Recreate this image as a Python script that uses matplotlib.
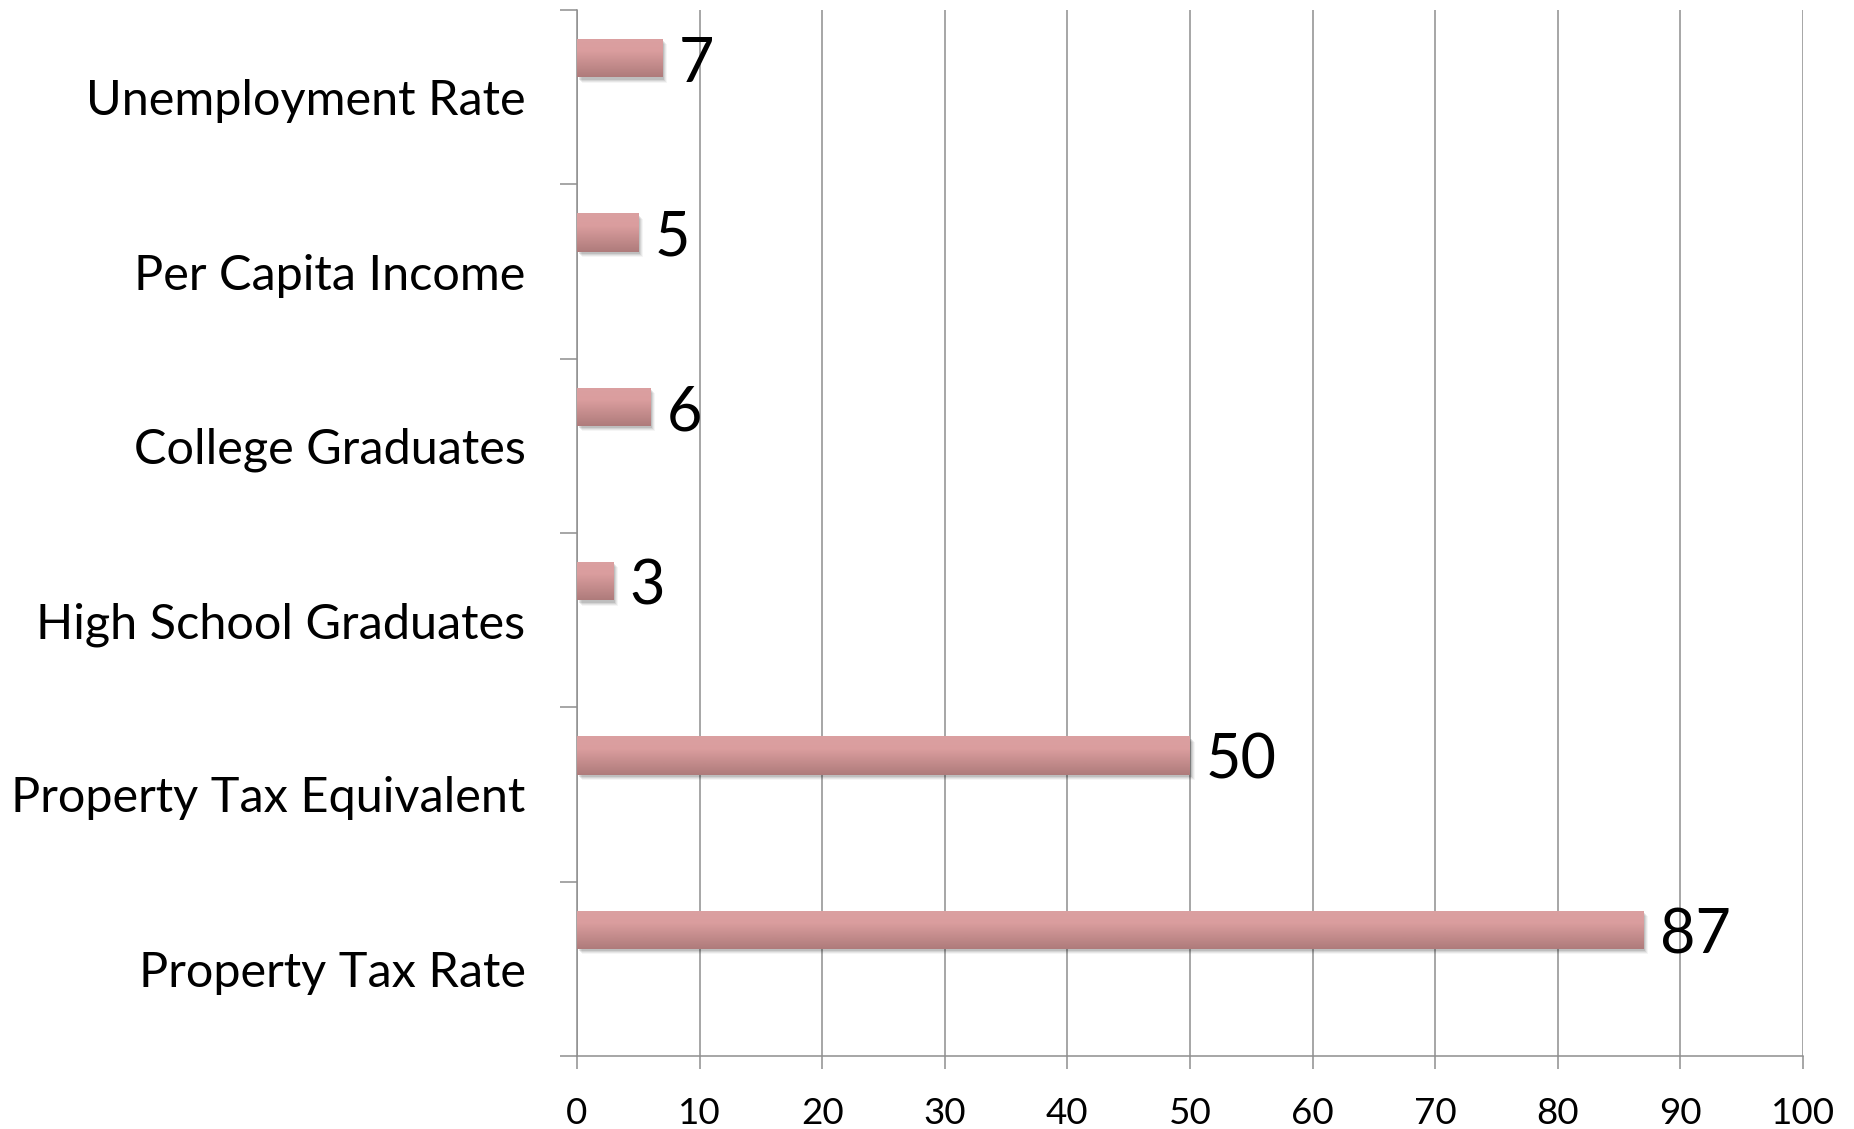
import matplotlib
matplotlib.use("Agg")
import matplotlib.pyplot as plt
import numpy as np
from matplotlib.patches import Rectangle
from matplotlib.colors import LinearSegmentedColormap
import matplotlib.transforms as mtransforms

categories = ["Property Tax Rate", "Property Tax Equivalent", "High School Graduates",
              "College Graduates", "Per Capita Income", "Unemployment Rate"]
values = [87, 50, 3, 6, 5, 7]
xticks = [0, 10, 20, 30, 40, 50, 60, 70, 80, 90, 100]

FONT = "Lato"
plt.rcParams['font.family'] = [FONT, 'DejaVu Sans']

fig = plt.figure(figsize=(18.54, 11.29), dpi=100)
ax = fig.add_axes([577/1854, 73/1129, (1803-577)/1854, (1056-10)/1129])

grid_c = "#8e8e8e"
ax.set_xlim(0, 100)
ax.set_ylim(-0.5, len(categories) - 0.5)
ax.set_xticks(xticks)
ax.set_xticklabels([str(t) for t in xticks], fontsize=26.5)
ax.set_yticks(np.arange(len(categories)))
ax.set_yticklabels(categories, fontsize=35)
ax.set_yticks(np.arange(len(categories) + 1) - 0.5, minor=True)
ax.tick_params(axis='y', which='major', length=0, pad=37)
ax.tick_params(axis='y', which='minor', length=12, width=1.1, color=grid_c)
ax.tick_params(axis='x', length=9.5, width=1.1, color=grid_c, pad=20)
for s in ["top", "right"]:
    ax.spines[s].set_visible(False)
for s in ["left", "bottom"]:
    ax.spines[s].set_color(grid_c)
    ax.spines[s].set_linewidth(1.1)
ax.grid(axis='x', color=grid_c, linewidth=1.1)
ax.set_axisbelow(True)

cmap = LinearSegmentedColormap.from_list("g", ["#ae7b7b", "#c48c8c", "#da9d9e", "#dba0a1"])
grad = np.linspace(0, 1, 256).reshape(-1, 1)

offset = 0.224
h = 0.22
for i, v in enumerate(values):
    yc = i + offset
    # shadow
    for k, a in enumerate([0.10, 0.08, 0.06, 0.04]):
        tr = ax.transData + mtransforms.ScaledTranslation((1.5 + k) / 100, -(2.5 + k) / 100, fig.dpi_scale_trans)
        sh = Rectangle((0, yc - h / 2), v, h, facecolor="#000000", alpha=a, edgecolor="none",
                       transform=tr, zorder=2)
        ax.add_patch(sh)
    rect = Rectangle((0, yc - h / 2), v, h, facecolor="none", edgecolor="none", zorder=3)
    ax.add_patch(rect)
    im = ax.imshow(grad, cmap=cmap, aspect='auto', extent=(0, v, yc - h / 2, yc + h / 2),
                   origin='lower', zorder=3, interpolation='bilinear')
    im.set_clip_path(rect)
    tr = ax.transData + mtransforms.ScaledTranslation(16 / 100, -6 / 100, fig.dpi_scale_trans)
    ax.text(v, yc, str(v), transform=tr, ha='left', va='center', fontsize=44, zorder=4)

ax.set_xlim(0, 100)
ax.set_ylim(-0.5, len(categories) - 0.5)
fig.savefig("out.png", dpi=100, facecolor="white")
